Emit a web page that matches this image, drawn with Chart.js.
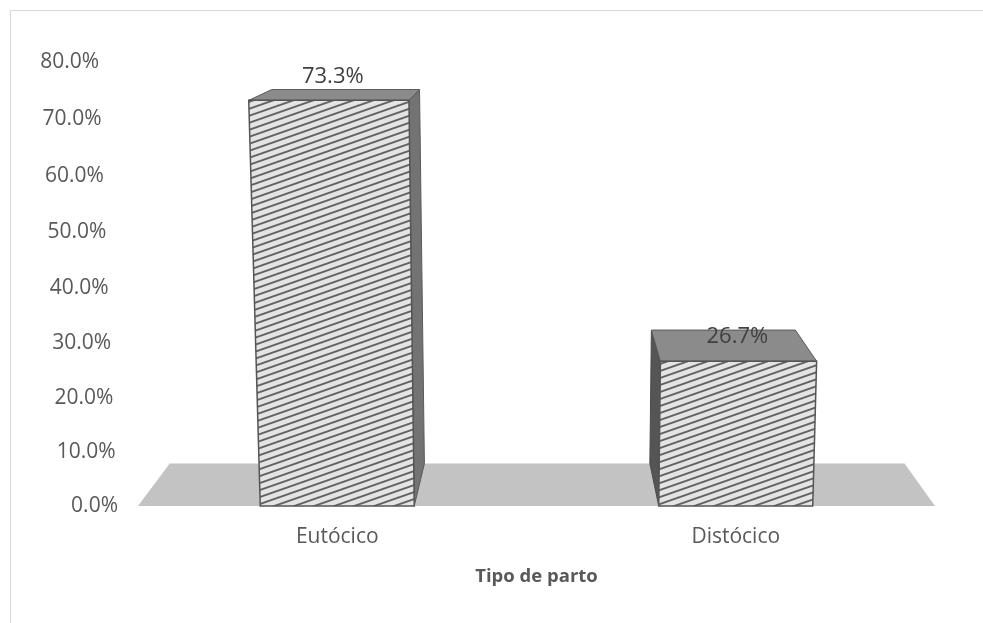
<!DOCTYPE html>
<html>
<head>
<meta charset="utf-8">
<title>Tipo de parto</title>
<script src="https://cdn.jsdelivr.net/npm/chart.js@4.4.1/dist/chart.umd.min.js"></script>
<style>
  html, body { margin: 0; padding: 0; background: #fff; }
  #wrap { position: relative; width: 983px; height: 623px; overflow: hidden; }
  #frame { position: absolute; left: 10px; top: 10px; right: 0; bottom: 0; border-left: 1px solid #d9d9d9; border-top: 1px solid #d9d9d9; }
  canvas { position: absolute; left: 0; top: 0; }
</style>
</head>
<body>
<div id="wrap">
  <div id="frame"></div>
  <canvas id="myChart" width="983" height="623"></canvas>
</div>
<script>
'use strict';

// data
let categories = ['Eutócico', 'Distócico'];
let percentages = [73.3, 26.7];
let tickValues = [0, 10, 20, 30, 40, 50, 60, 70, 80];
let axisTitle = 'Tipo de parto';

// 3d look
let depth = 0.078;    // how far the back faces sit toward the vanishing point
let lean = 0.0001;    // vertical edges converge slightly downward
let stretch = 0.00008; // upper part of the walls a bit taller than the lower part
let textColor = '#595959';
let fontFamily = '"Open Sans", "Liberation Sans", sans-serif';

function makeHatch() {
  let tile = document.createElement('canvas');
  tile.width = 20;
  tile.height = 7;
  let c = tile.getContext('2d');
  c.fillStyle = '#e4e4e4';
  c.fillRect(0, 0, 20, 7);
  c.strokeStyle = '#626262';
  c.lineWidth = 1.9;
  for (let k = -1; k <= 1; k++) {
    c.beginPath();
    c.moveTo(0, 7 + k * 7);
    c.lineTo(20, 0 + k * 7);
    c.stroke();
  }
  return c.createPattern(tile, 'repeat');
}

function vanishing(area) {
  return { x: (area.left + area.right) / 2 + 8, y: area.top - 100 };
}

// flat chart coordinates -> slightly perspective ones
function project(x, y, area, vp) {
  let full = area.bottom - area.top;
  let h = area.bottom - y;
  let py = area.bottom - h * (1 + stretch * h) / (1 + stretch * full);
  let s = 1 + lean * (area.bottom - py);
  return [vp.x + (x - vp.x) * s, py];
}

function pushBack(p, vp) {
  return [p[0] + depth * (vp.x - p[0]), p[1] + depth * (vp.y - p[1])];
}

function poly(ctx, pts, fill, stroke, lw) {
  ctx.beginPath();
  ctx.moveTo(pts[0][0], pts[0][1]);
  for (let i = 1; i < pts.length; i++) {
    ctx.lineTo(pts[i][0], pts[i][1]);
  }
  ctx.closePath();
  if (fill) {
    ctx.fillStyle = fill;
    ctx.fill();
  }
  if (stroke) {
    ctx.strokeStyle = stroke;
    ctx.lineWidth = lw || 1;
    ctx.stroke();
  }
}

let hatch = makeHatch();

// floor, boxes and value axis labels, drawn from what chart.js laid out
let boxes3d = {
  id: 'boxes3d',
  beforeDatasetsDraw(chart) {
    let ctx = chart.ctx;
    let area = chart.chartArea;
    let vp = vanishing(area);
    let yScale = chart.scales.y;
    let zero = yScale.getPixelForValue(0);

    ctx.save();

    // value labels lean with the wall
    ctx.font = '21px ' + fontFamily;
    ctx.fillStyle = textColor;
    ctx.textAlign = 'right';
    ctx.textBaseline = 'middle';
    yScale.ticks.forEach(function (t) {
      let p = project(area.left - 20, yScale.getPixelForValue(t.value), area, vp);
      ctx.fillText(t.value.toFixed(1) + '%', p[0], p[1]);
    });

    let fl = [area.left, zero];
    let fr = [area.right, zero];
    poly(ctx, [fl, fr, pushBack(fr, vp), pushBack(fl, vp)], '#c3c3c3');

    chart.getDatasetMeta(0).data.forEach(function (bar) {
      let left = bar.x - bar.width / 2;
      let right = bar.x + bar.width / 2;
      let ftl = project(left, bar.y, area, vp);
      let ftr = project(right, bar.y, area, vp);
      let fbr = project(right, bar.base, area, vp);
      let fbl = project(left, bar.base, area, vp);
      let btl = pushBack(ftl, vp);
      let btr = pushBack(ftr, vp);
      let bbr = pushBack(fbr, vp);
      let bbl = pushBack(fbl, vp);

      if (ftr[0] < vp.x) {
        poly(ctx, [ftr, btr, bbr, fbr], '#737373', '#5a5a5a', 1);
      }
      if (ftl[0] > vp.x) {
        poly(ctx, [ftl, btl, bbl, fbl], '#555555', '#4a4a4a', 1);
      }
      poly(ctx, [ftl, btl, btr, ftr], '#8b8b8b', '#5a5a5a', 1);
      poly(ctx, [ftl, ftr, fbr, fbl], hatch, '#555555', 1.5);
    });
    ctx.restore();
  },
  afterDatasetsDraw(chart) {
    let ctx = chart.ctx;
    let area = chart.chartArea;
    let vp = vanishing(area);
    ctx.save();
    ctx.font = '22px ' + fontFamily;
    ctx.fillStyle = '#404040';
    ctx.textAlign = 'center';
    ctx.textBaseline = 'middle';
    chart.getDatasetMeta(0).data.forEach(function (bar, i) {
      let top = project(bar.x, bar.y, area, vp);
      let ly = top[1] - 24;
      let lx = vp.x + (bar.x - vp.x) * (1 + lean / 2 * (area.bottom - ly));
      ctx.fillText(percentages[i].toFixed(1) + '%', lx, ly);
    });
    ctx.restore();
  }
};

let config = {
  type: 'bar',
  data: {
    labels: categories,
    datasets: [{
      data: percentages,
      backgroundColor: 'rgba(0,0,0,0)',
      borderWidth: 0,
      categoryPercentage: 0.8,
      barPercentage: 0.483
    }]
  },
  options: {
    responsive: false,
    animation: false,
    layout: { padding: { top: 62, right: 48, bottom: 0, left: 0 } },
    plugins: {
      legend: { display: false },
      tooltip: { enabled: false }
    },
    scales: {
      y: {
        min: 0,
        max: 80,
        grid: { display: false },
        border: { display: false },
        afterBuildTicks: function (scale) {
          scale.ticks = tickValues.map(function (v) { return { value: v }; });
        },
        afterFit: function (scale) { scale.width = 138; },
        ticks: { display: false }
      },
      x: {
        grid: { display: false },
        border: { display: false },
        afterFit: function (scale) { scale.height = 117; },
        ticks: {
          padding: 10,
          color: textColor,
          font: { family: fontFamily, size: 21 }
        },
        title: {
          display: true,
          text: axisTitle,
          color: textColor,
          font: { family: fontFamily, size: 18.5, weight: 'bold' },
          padding: { top: 0, bottom: 35 }
        }
      }
    }
  },
  plugins: [boxes3d]
};

let myChart = new Chart(document.getElementById('myChart'), config);
</script>
</body>
</html>
